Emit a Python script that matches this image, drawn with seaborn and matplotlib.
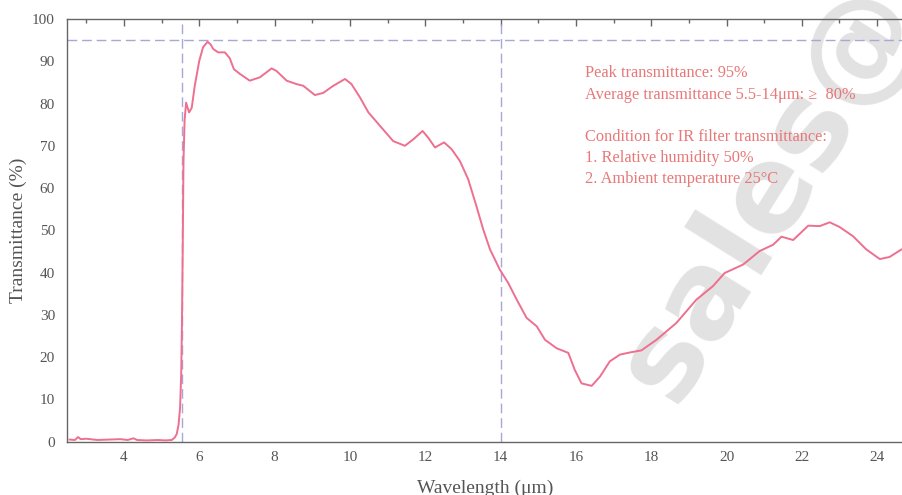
import pandas as pd
import matplotlib.pyplot as plt
import seaborn as sns
from matplotlib.ticker import MultipleLocator

# dati (lunghezza d'onda in um, trasmittanza in %)
wavelength = [2.55, 2.7, 2.78, 2.85, 3.0, 3.3, 3.6, 3.9, 4.1, 4.25, 4.35, 4.6, 4.9, 5.1,
              5.27, 5.35, 5.4, 5.45, 5.49, 5.52, 5.54, 5.56, 5.58, 5.61, 5.65, 5.69, 5.73,
              5.8, 5.88, 6.0, 6.1, 6.22, 6.3, 6.37, 6.5, 6.68, 6.81, 6.92, 7.08, 7.34, 7.61,
              7.92, 8.05, 8.32, 8.58, 8.76, 9.07, 9.29, 9.56, 9.87, 10.04, 10.27, 10.49,
              10.8, 11.15, 11.46, 11.68, 11.93, 12.08, 12.26, 12.5, 12.7, 12.92, 13.14,
              13.36, 13.54, 13.72, 13.98, 14.2, 14.43, 14.69, 14.96, 15.18, 15.49, 15.8,
              15.97, 16.15, 16.42, 16.64, 16.9, 17.17, 17.43, 17.74, 18.14, 18.67, 19.2,
              19.64, 19.95, 20.44, 20.88, 21.24, 21.46, 21.77, 22.17, 22.48, 22.74, 23.0,
              23.36, 23.71, 24.07, 24.33, 24.65]
transmittance = [0.5, 0.4, 1.1, 0.6, 0.7, 0.4, 0.5, 0.6, 0.4, 0.8, 0.4, 0.3, 0.4, 0.3,
                 0.4, 1.0, 1.8, 4.0, 8.0, 16.0, 28.0, 45.0, 66.0, 76.0, 80.2, 79.0, 77.9,
                 79.0, 84.2, 90.1, 93.3, 94.6, 94.0, 92.9, 92.1, 92.1, 90.7, 88.1, 87.0, 85.4, 86.2,
                 88.3, 87.7, 85.4, 84.6, 84.2, 82.0, 82.5, 84.2, 85.8, 84.6, 81.4, 77.9,
                 74.7, 71.1, 70.0, 71.5, 73.5, 71.9, 69.6, 70.8, 69.2, 66.4, 62.1,
                 55.7, 50.2, 45.5, 40.7, 37.6, 33.6, 29.3, 27.3, 24.1, 22.1, 21.0,
                 17.0, 13.8, 13.2, 15.4, 19.0, 20.6, 21.1, 21.6, 24.1, 28.1, 33.6,
                 36.8, 39.9, 41.9, 45.1, 46.6, 48.5, 47.7, 51.1, 51.0, 51.9, 50.8,
                 48.6, 45.5, 43.2, 43.7, 45.5]

linee_verticali = [5.54, 14.0]
linea_picco = 95

note = ("Peak transmittance: 95%\n"
        "Average transmittance 5.5-14\u03bcm: \u2265  80%\n"
        "\n"
        "Condition for IR filter transmittance:\n"
        "1. Relative humidity 50%\n"
        "2. Ambient temperature 25\u00b0C")

df = pd.DataFrame({"wl": wavelength, "T": transmittance})

sns.set_style("white")
plt.rcParams['font.family'] = ['Liberation Serif', 'DejaVu Serif']

grigio = '#666666'
fig = plt.figure(figsize=(9.02, 4.95), dpi=100)
ax = fig.add_axes([0.0748, 0.1077, 0.9252, 0.854])

# filigrana, sotto la curva e il testo
ax.text(674 / 902, 1 - 406 / 495, "sales@", fontsize=86, fontweight='bold',
        family='DejaVu Sans', color='#e2e2e2', rotation=58, transform=fig.transFigure,
        rotation_mode='anchor', ha='left', va='baseline', zorder=0, clip_on=False)

for xv in linee_verticali:
    ax.axvline(xv, color='#a8a8d8', lw=1, dashes=(7, 3.5), zorder=1)
ax.axhline(linea_picco, color='#a8a8d8', lw=1, dashes=(7, 3.5), zorder=1)

sns.lineplot(data=df, x="wl", y="T", ax=ax, color='#ee6f8f', lw=1.4, zorder=3)

ax.set_xlim(2.5, 24.66)
ax.set_ylim(0, 100)
ax.xaxis.set_major_locator(MultipleLocator(2))
ax.xaxis.set_minor_locator(MultipleLocator(1))
ax.yaxis.set_major_locator(MultipleLocator(10))
ax.yaxis.set_minor_locator(MultipleLocator(5))
ax.tick_params(which='both', direction='in', top=True, color=grigio, labelcolor='#555555',
               labelsize=11)
ax.tick_params(which='major', length=5, width=1)
ax.tick_params(which='minor', length=3, width=1)
ax.tick_params(axis='x', which='major', pad=7)
ax.tick_params(axis='y', which='major', pad=9)

for lato in ['left', 'bottom', 'top']:
    ax.spines[lato].set_color(grigio)
    ax.spines[lato].set_linewidth(1)
ax.spines['right'].set_visible(False)

ax.set_xlabel("Wavelength (\u03bcm)", fontsize=14, color='#555555', labelpad=11)
ax.set_ylabel("Transmittance (%)", fontsize=14, color='#555555', labelpad=4)

ax.text(16.24, 89.0, note, fontsize=11.8, color='#e87878', va='top', ha='left',
        linespacing=1.43, zorder=4)

plt.savefig("out.png", dpi=100)
